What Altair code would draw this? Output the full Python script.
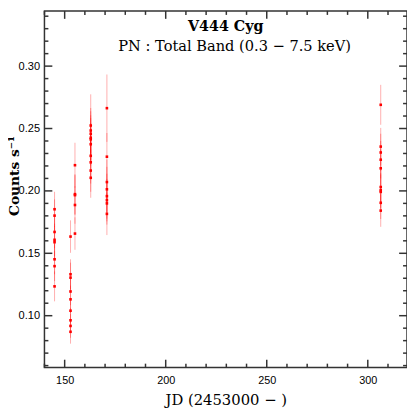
import altair as alt
import pandas as pd

# ---- data ----
jd = ([145.0] * 8 + [152.9] + [152.9] * 8 + [155.1] * 5 + [162.9] * 10
      + [170.9] * 8 + [306.4] * 10)
rate = [0.1853, 0.1802, 0.1671, 0.1608, 0.1589, 0.1452, 0.1397, 0.1235,
        0.1634,
        0.1332, 0.1305, 0.1194, 0.1131, 0.1040, 0.0963, 0.0918, 0.0871,
        0.2206, 0.1974, 0.1966, 0.1887, 0.1658,
        0.2524, 0.2484, 0.2458, 0.2426, 0.2413, 0.2374, 0.2281, 0.2229, 0.2163, 0.2105,
        0.2663, 0.2274, 0.2071, 0.2013, 0.1958, 0.1926, 0.1900, 0.1816,
        0.2690, 0.2355, 0.2308, 0.2250, 0.2181, 0.2031, 0.2005, 0.1992, 0.1905, 0.1842]
err = [0.014, 0.013, 0.013, 0.013, 0.013, 0.012, 0.012, 0.012,
       0.013,
       0.012, 0.012, 0.011, 0.011, 0.010, 0.010, 0.0095, 0.0095,
       0.018, 0.016, 0.016, 0.015, 0.013,
       0.025, 0.018, 0.018, 0.018, 0.017, 0.017, 0.017, 0.017, 0.017, 0.016,
       0.027, 0.019, 0.018, 0.018, 0.018, 0.017, 0.017, 0.017,
       0.016, 0.015, 0.015, 0.015, 0.015, 0.014, 0.014, 0.014, 0.013, 0.013]

x_major = [150, 200, 250, 300]
x_minor = [140, 160, 170, 180, 190, 210, 220, 230, 240, 260, 270, 280, 290, 310]
y_major = [0.10, 0.15, 0.20, 0.25, 0.30]
y_minor = [0.06, 0.07, 0.08, 0.09, 0.11, 0.12, 0.13, 0.14, 0.16, 0.17, 0.18, 0.19,
           0.21, 0.22, 0.23, 0.24, 0.26, 0.27, 0.28, 0.29, 0.31, 0.32, 0.33, 0.34]

title_text = "V444 Cyg"
subtitle_text = "PN : Total Band (0.3 \u2212 7.5 keV)"
x_title = "JD (2453000 \u2212 )"
y_title = "Counts s\u207b\u00b9"

W, H = 368, 362
FRAME = "#333333"

df = pd.DataFrame({"jd": jd, "rate": rate, "err": err})
df["lo"] = df["rate"] - df["err"]
df["hi"] = df["rate"] + df["err"]

xs = alt.Scale(domain=[140, 319.4], nice=False, zero=False)
ys = alt.Scale(domain=[0.0584, 0.3442], nice=False, zero=False)

xaxis = alt.Axis(values=x_major, format="d", tickSize=0, domain=False, grid=False,
                 labelFont="Liberation Sans", labelFontSize=11, labelPadding=7,
                 labelColor="#000", title=x_title, titleFont="DejaVu Serif",
                 titleFontSize=15, titleFontWeight="normal", titleColor="#000",
                 titlePadding=7)
yaxis = alt.Axis(values=y_major, format=".2f", tickSize=0, domain=False, grid=False,
                 labelFont="Liberation Sans", labelFontSize=11.2, labelPadding=5,
                 labelColor="#000", title=y_title, titleFont="DejaVu Serif",
                 titleFontSize=14, titleFontWeight="bold", titleColor="#000",
                 titleAngle=270, titleX=-30, titleY=167, titleAlign="center",
                 titleBaseline="middle")

bars = alt.Chart(df).mark_rule(color="#ff0000", opacity=0.32, strokeWidth=1).encode(
    x=alt.X("jd:Q", scale=xs, axis=xaxis),
    y=alt.Y("lo:Q", scale=ys, axis=yaxis),
    y2="hi:Q",
)
pts = alt.Chart(df).mark_square(color="#ff0000", size=7, opacity=1).encode(
    x=alt.X("jd:Q", scale=xs),
    y=alt.Y("rate:Q", scale=ys),
)

def xticks(vals, length):
    d = pd.DataFrame({"v": vals})
    b = alt.Chart(d).mark_rule(color=FRAME, strokeWidth=1.5).encode(
        x=alt.X("v:Q", scale=xs), y=alt.value(H), y2=alt.value(H - length))
    t = alt.Chart(d).mark_rule(color=FRAME, strokeWidth=1.5).encode(
        x=alt.X("v:Q", scale=xs), y=alt.value(0), y2=alt.value(length))
    return [b, t]

def yticks(vals, length):
    d = pd.DataFrame({"v": vals})
    l = alt.Chart(d).mark_rule(color=FRAME, strokeWidth=1.5).encode(
        y=alt.Y("v:Q", scale=ys), x=alt.value(0), x2=alt.value(length))
    r = alt.Chart(d).mark_rule(color=FRAME, strokeWidth=1.5).encode(
        y=alt.Y("v:Q", scale=ys), x=alt.value(W), x2=alt.value(W - length))
    return [l, r]

ticks = xticks(x_major, 8) + xticks(x_minor, 4) + yticks(y_major, 8) + yticks(y_minor, 4)

tdf = pd.DataFrame({"t": [title_text]})
sdf = pd.DataFrame({"t": [subtitle_text]})
title = alt.Chart(tdf).mark_text(font="DejaVu Serif", fontSize=14.5, fontWeight="bold",
                                 color="#000", align="center", baseline="middle").encode(
    x=alt.value(184), y=alt.value(16), text="t:N")
subtitle = alt.Chart(sdf).mark_text(font="DejaVu Serif", fontSize=14.8, fontWeight="normal",
                                    color="#000", align="center", baseline="middle").encode(
    x=alt.value(193), y=alt.value(37), text="t:N")

chart = alt.layer(bars, pts, *ticks, title, subtitle).properties(
    width=W, height=H,
    autosize=alt.AutoSizeParams(type="none"),
    padding={"left": 37, "top": 0, "right": 0, "bottom": 38},
).configure_view(stroke=FRAME, strokeWidth=1.5)

chart.save("out.html", embed_options={"renderer": "svg", "actions": False})
